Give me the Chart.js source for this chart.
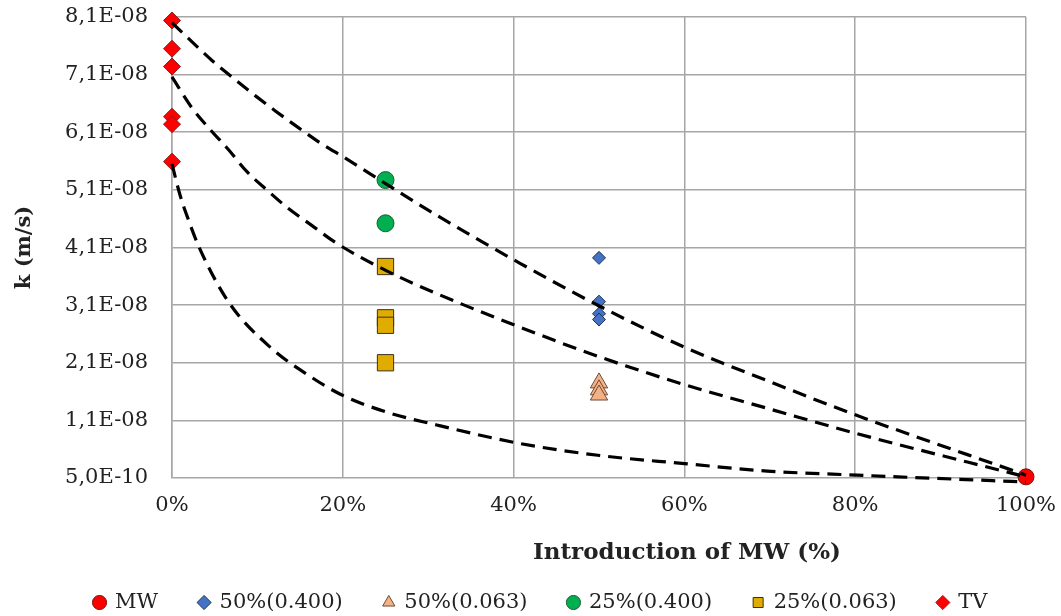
<!DOCTYPE html>
<html>
<head>
<meta charset="utf-8">
<script src="https://cdn.jsdelivr.net/npm/chart.js@4.4.1/dist/chart.umd.min.js"></script>
<style>
  html, body { margin: 0; padding: 0; background: #ffffff; }
  #wrap { width: 1061px; height: 616px; position: relative; }
</style>
</head>
<body>
<div id="wrap"><canvas id="c" width="1061" height="616"></canvas></div>
<script>
// ---- data (values in m/s, x in %) ----
const mwX = [100];
const mwY = [0.07e-8];

const s50_400X = [50, 50, 50, 50];
const s50_400Y = [3.87e-8, 3.11e-8, 2.90e-8, 2.80e-8];

const s50_063X = [50, 50, 50];
const s50_063Y = [1.70e-8, 1.58e-8, 1.49e-8];

const s25_400X = [25, 25];
const s25_400Y = [5.22e-8, 4.47e-8];

const s25_063X = [25, 25, 25, 25];
const s25_063Y = [3.72e-8, 2.83e-8, 2.70e-8, 2.05e-8];

const tvX = [0, 0, 0, 0, 0, 0];
const tvY = [7.99e-8, 7.50e-8, 7.19e-8, 6.32e-8, 6.19e-8, 5.54e-8];

// dashed trend curves
const curveTopX = [0, 4.65, 7.0, 9.7, 12.1, 14.8, 17.3, 20.3, 25.2, 31.0, 40.7, 50.1, 60.0, 69.7, 79.4, 100];
const curveTopY = [7.95e-8, 7.30e-8, 7.01e-8, 6.69e-8, 6.42e-8, 6.13e-8, 5.87e-8, 5.60e-8, 5.14e-8, 4.61e-8, 3.78e-8, 3.03e-8, 2.32e-8, 1.74e-8, 1.18e-8, 0.10e-8];

const curveMidX = [0, 2.3, 4.45, 6.6, 8.75, 11.1, 13.6, 16.4, 19.1, 25.2, 31.0, 40.7, 50.1, 60.0, 69.7, 80.2, 100];
const curveMidY = [7.01e-8, 6.48e-8, 6.10e-8, 5.75e-8, 5.37e-8, 5.05e-8, 4.73e-8, 4.43e-8, 4.14e-8, 3.64e-8, 3.25e-8, 2.67e-8, 2.15e-8, 1.67e-8, 1.26e-8, 0.82e-8, 0.07e-8];

const curveLowX = [0, 0.94, 1.9, 3.1, 6.6, 11.5, 16.2, 19.9, 25.2, 31.0, 40.7, 50.1, 60.0, 69.7, 80.2, 100];
const curveLowY = [5.50e-8, 4.96e-8, 4.54e-8, 4.08e-8, 3.11e-8, 2.32e-8, 1.81e-8, 1.49e-8, 1.19e-8, 0.97e-8, 0.65e-8, 0.44e-8, 0.30e-8, 0.17e-8, 0.10e-8, -0.02e-8];

const yTickValues = [0.05e-8, 1.05e-8, 2.05e-8, 3.05e-8, 4.05e-8, 5.05e-8, 6.05e-8, 7.05e-8, 8.05e-8];
const yTickLabels = ["5,0E-10", "1,1E-08", "2,1E-08", "3,1E-08", "4,1E-08", "5,1E-08", "6,1E-08", "7,1E-08", "8,1E-08"];
const xTickValues = [0, 20, 40, 60, 80, 100];
const xTickLabels = ["0%", "20%", "40%", "60%", "80%", "100%"];

const seriesNames = ["MW", "50%(0.400)", "50%(0.063)", "25%(0.400)", "25%(0.063)", "TV"];

const zip = (xs, ys) => xs.map((x, i) => ({ x: x, y: ys[i] }));

const FONT = "'DejaVu Serif', 'Liberation Serif', serif";

function curve(xs, ys) {
  return {
    label: "trend",
    data: zip(xs, ys),
    showLine: true,
    borderColor: "#000000",
    borderWidth: 3.2,
    borderDash: [14, 8],
    pointRadius: 0,
    pointHoverRadius: 0,
    cubicInterpolationMode: "monotone",
    fill: false,
    order: 0,
    clip: false
  };
}

const datasets = [
  { label: seriesNames[0], data: zip(mwX, mwY), pointStyle: "circle", pointRadius: 8,
    backgroundColor: "#FF0000", borderColor: "#7A1010", borderWidth: 1, order: 1, clip: false },
  { label: seriesNames[1], data: zip(s50_400X, s50_400Y), pointStyle: "rectRot", pointRadius: 6.5,
    backgroundColor: "#4472C4", borderColor: "#1F3050", borderWidth: 1, order: 1, clip: false },
  { label: seriesNames[2], data: zip(s50_063X, s50_063Y), pointStyle: "triangle", pointRadius: 10,
    backgroundColor: "#F4B183", borderColor: "#6B4A3A", borderWidth: 1, order: 1, clip: false },
  { label: seriesNames[3], data: zip(s25_400X, s25_400Y), pointStyle: "circle", pointRadius: 8.5,
    backgroundColor: "#00B050", borderColor: "#1E5A35", borderWidth: 1, order: 1, clip: false },
  { label: seriesNames[4], data: zip(s25_063X, s25_063Y), pointStyle: "rect", pointRadius: 11.5,
    backgroundColor: "#E1AC00", borderColor: "#3C3018", borderWidth: 1, order: 1, clip: false },
  { label: seriesNames[5], data: zip(tvX, tvY), pointStyle: "rectRot", pointRadius: 8.5,
    backgroundColor: "#FF0000", borderColor: "#8B2020", borderWidth: 1, order: 1, clip: false },
  curve(curveTopX, curveTopY),
  curve(curveMidX, curveMidY),
  curve(curveLowX, curveLowY)
];

// shift legend and x-axis title horizontally to where the reference has them
const shiftPlugin = {
  id: "shiftPlugin",
  afterLayout(chart) {
    chart.legend.left += 28;
    chart.legend.right += 28;
    chart.scales.x.right += 176;
  }
};

new Chart(document.getElementById("c"), {
  type: "scatter",
  data: { datasets: datasets },
  plugins: [shiftPlugin],
  options: {
    responsive: false,
    animation: false,
    devicePixelRatio: 1,
    layout: { padding: { left: 0, right: 35, top: 17, bottom: -7 } },
    plugins: {
      tooltip: { enabled: false },
      legend: {
        position: "bottom",
        labels: {
          filter: (item) => item.text !== "trend",
          usePointStyle: true,
          boxWidth: 10,
          boxHeight: 10,
          padding: 41,
          color: "#222222",
          font: { family: FONT, size: 21 }
        }
      }
    },
    scales: {
      x: {
        type: "linear",
        min: 0,
        max: 100,
        afterBuildTicks: (scale) => { scale.ticks = xTickValues.map(v => ({ value: v })); },
        afterFit: (scale) => { scale.height = 73; },
        ticks: {
          callback: (v) => { const i = xTickValues.indexOf(v); return i >= 0 ? xTickLabels[i] : ""; },
          color: "#222222",
          font: { family: FONT, size: 21 },
          padding: 0,
          maxRotation: 0
        },
        grid: { color: "#A6A6A6", lineWidth: 1.5, drawTicks: true, tickLength: 15, tickColor: "rgba(0,0,0,0)" },
        border: { display: false },
        title: {
          display: true,
          text: "Introduction of MW (%)",
          color: "#222222",
          font: { family: FONT, size: 23, weight: "bold" },
          padding: { top: 0, bottom: -16 }
        }
      },
      y: {
        type: "linear",
        min: 0.05e-8,
        max: 8.05e-8,
        afterBuildTicks: (scale) => { scale.ticks = yTickValues.map(v => ({ value: v })); },
        afterFit: (scale) => { scale.width = 172; },
        ticks: {
          callback: (v, idx) => yTickLabels[idx],
          color: "#222222",
          font: { family: FONT, size: 21 },
          padding: 0
        },
        grid: { color: "#A6A6A6", lineWidth: 1.5, drawTicks: true, tickLength: 24, tickColor: "rgba(0,0,0,0)" },
        border: { color: "#A6A6A6", width: 1.5 },
        title: {
          display: true,
          text: "k (m/s)",
          color: "#222222",
          font: { family: FONT, size: 21, weight: "bold" },
          padding: { top: 12, bottom: 0 }
        }
      }
    }
  }
});
</script>
</body>
</html>
